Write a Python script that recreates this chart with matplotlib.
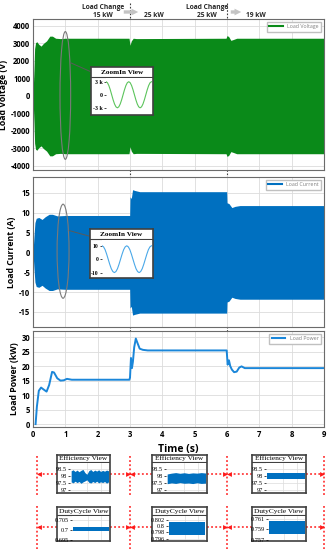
import numpy as np
import matplotlib
matplotlib.use("Agg")
import matplotlib.pyplot as plt
from matplotlib.patches import Ellipse, ConnectionPatch

plt.rcParams['font.family'] = ['Open Sans', 'Lato', 'DejaVu Sans']

## datos
volt_t = [0.0, 0.03, 0.05, 0.08, 0.12, 0.18, 0.25, 0.32, 0.42, 0.52, 0.6, 0.7, 0.85, 1.0,
          2.97, 3.0, 3.04, 3.1, 3.2, 5.97, 6.0, 6.05, 6.12, 6.2, 6.3, 9.0]
volt_amp = [0, 1500, 2700, 3050, 3100, 2950, 2850, 3000, 3150, 3420, 3420, 3300, 3280, 3300,
            3300, 2900, 3150, 3300, 3280, 3300, 3450, 3400, 3180, 3230, 3300, 3300]

curr_t = [0.0, 0.03, 0.06, 0.1, 0.18, 0.28, 0.38, 0.5, 0.6, 0.75, 1.0, 2.99, 3.0, 3.04, 3.08,
          3.15, 3.3, 5.99, 6.0, 6.06, 6.15, 6.25, 6.4, 9.0]
curr_amp = [0, 4, 7.5, 8.6, 8.8, 8.3, 9.0, 9.6, 9.6, 9.2, 9.3, 9.3, 14.0, 13.6, 15.8,
            15.6, 15.3, 15.3, 12.5, 12.3, 11.3, 11.6, 11.8, 11.8]

pow_t = [0.08, 0.12, 0.18, 0.25, 0.32, 0.42, 0.5, 0.59, 0.65, 0.75, 0.85, 0.95, 1.05, 1.2,
         2.98, 3.0, 3.03, 3.06, 3.09, 3.13, 3.18, 3.23, 3.3, 3.4, 3.55, 5.99, 6.02, 6.06,
         6.1, 6.15, 6.22, 6.3, 6.38, 6.45, 6.55, 9.0]
pow_kw = [0, 6, 11.5, 12.6, 12.0, 11.2, 13.5, 18.0, 17.8, 15.8, 15.0, 15.1, 15.6, 15.3,
          15.3, 16.0, 22.8, 19.3, 21.5, 26.5, 29.5, 28.0, 26.0, 25.6, 25.4, 25.4, 20.5, 22.0,
          20.0, 18.8, 17.9, 18.1, 19.5, 19.9, 19.3, 19.3]

## vistas ampliadas (una onda de 2 periodos)
zoom_v = [3000, 2770, 2120, 1150, 0, -1150, -2120, -2770, -3000, -2770, -2120, -1150, 0,
          1150, 2120, 2770, 3000, 2770, 2120, 1150, 0, -1150, -2120, -2770, -3000, -2770,
          -2120, -1150, 0, 1150, 2120, 2770, 3000]
zoom_i = [10, 9.2, 7.1, 3.8, 0, -3.8, -7.1, -9.2, -10, -9.2, -7.1, -3.8, 0, 3.8, 7.1, 9.2,
          10, 9.2, 7.1, 3.8, 0, -3.8, -7.1, -9.2, -10, -9.2, -7.1, -3.8, 0, 3.8, 7.1, 9.2, 10]

## eficiencia y ciclo de trabajo en cada tramo
eff1_hi = [98.35, 98.42, 98.30, 98.40, 98.28, 98.38, 98.45, 98.22, 98.10, 98.36, 98.44,
           98.30, 98.40, 98.33, 98.42, 98.30, 98.38, 98.32, 98.40, 98.35]
eff1_lo = [97.55, 97.48, 97.60, 97.50, 97.58, 97.45, 97.55, 97.62, 97.70, 97.52, 97.47,
           97.58, 97.50, 97.60, 97.48, 97.56, 97.50, 97.58, 97.46, 97.55]
eff2_hi = [98.12, 98.18, 98.22, 98.17, 98.21, 98.16, 98.20, 98.18, 98.22, 98.19]
eff2_lo = [97.42, 97.48, 97.44, 97.50, 97.45, 97.47, 97.43, 97.49, 97.44, 97.46]
eff3_hi = [98.18, 98.18]
eff3_lo = [97.78, 97.78]
duty_lo = [0.6991, 0.7972, 0.7580]
duty_hi = [0.7013, 0.8013, 0.7605]
duty_ticks = [[0.695, 0.7, 0.705], [0.796, 0.798, 0.8, 0.802], [0.757, 0.759, 0.761]]
duty_lim = [(0.6959, 0.7068), (0.79568, 0.80326), (0.75718, 0.76155)]

W, H = 333, 550
fig = plt.figure(figsize=(3.33, 5.5), dpi=100)


def px(x0, y0, x1, y1):
    return [x0 / W, 1 - y1 / H, (x1 - x0) / W, (y1 - y0) / H]


tick_font = dict(fontweight='bold', fontsize=5.5)
grid_c = '#dcdcdc'


def style(ax, yticks, ylabel):
    ax.set_xlim(0, 9)
    ax.set_xticks(range(10))
    ax.set_yticks(yticks, [str(v) for v in yticks], **tick_font)
    ax.grid(True, color=grid_c, lw=0.6)
    ax.set_axisbelow(True)
    ax.tick_params(length=0, pad=2)
    for s in ax.spines.values():
        s.set_color('#6b6b6b')
        s.set_linewidth(0.8)
    ax.set_ylabel(ylabel, fontsize=6.3, fontweight='bold', labelpad=2)


ax1 = fig.add_axes(px(33, 19, 324, 170))
ax2 = fig.add_axes(px(33, 177, 324, 327))
ax3 = fig.add_axes(px(33, 331, 324, 427))

ax1.fill_between(volt_t, [-a for a in volt_amp], volt_amp, color='#0a8a19', lw=0,
                 label='Load Voltage')
ax1.set_ylim(-4230, 4400)
style(ax1, list(range(-4000, 4001, 1000)), 'Load Voltage (V)')
ax1.set_xticklabels([])

ax2.fill_between(curr_t, [-a for a in curr_amp], curr_amp, color='#0070c0', lw=0,
                 label='Load Current')
ax2.set_ylim(-18.8, 19)
style(ax2, list(range(-15, 16, 5)), 'Load Current (A)')
ax2.set_xticklabels([])

ax3.plot(pow_t, pow_kw, color='#1a86d9', lw=1.4, label='Load Power')
ax3.set_ylim(-1, 32.1)
style(ax3, list(range(0, 31, 5)), 'Load Power (kW)')
ax3.set_xticks(range(10), [str(v) for v in range(10)], **tick_font)
ax3.set_xlabel('Time (s)', fontsize=7.5, fontweight='bold', labelpad=4)

for ax, c in [(ax1, '#0a8a19'), (ax2, '#0070c0'), (ax3, '#1a86d9')]:
    h = [plt.Line2D([], [], color=c, lw=1.5)]
    lab = ax.get_legend_handles_labels()[1]
    ax.legend(h, lab, loc='upper right', fontsize=3.8, handlelength=2.6, fancybox=False,
              edgecolor='#c0c0c0', labelcolor='#808080', borderaxespad=0.5,
              borderpad=0.5, framealpha=1)

# elipses de la vista ampliada
ax1.add_patch(Ellipse((1.0, 30), 0.33, 7300, fill=False, ec='#7a7a7a', lw=0.8, zorder=5))
ax2.add_patch(Ellipse((0.93, 0.3), 0.37, 23.7, fill=False, ec='#7a7a7a', lw=0.8, zorder=5))


def make_box(x0, y0, x1, y1, head_y, plot_x0, title, bold, tsize, lsize=4.5):
    box = fig.add_axes(px(x0, y0, x1, y1), zorder=3)
    box.set_xticks([])
    box.set_yticks([])
    for s in box.spines.values():
        s.set_edgecolor('#404040')
        s.set_linewidth(1.2)
    frac = 1 - (head_y - y0) / (y1 - y0)
    box.axhline(frac, color='#404040', lw=0.8)
    box.text(0.5, (1 + frac) / 2, title, transform=box.transAxes, ha='center',
             va='center', fontsize=tsize, family='Liberation Serif',
             fontweight='bold' if bold else 'normal')
    ax = fig.add_axes(px(plot_x0, head_y + 1, x1 - 1.5, y1 - 1.5), zorder=4)
    ax.set_xticks([])
    for s in ax.spines.values():
        s.set_visible(False)
    ax.tick_params(axis='y', length=1.5, width=0.5, pad=1, labelsize=lsize)
    return box, ax


sfont = dict(family='Liberation Serif', fontweight='bold')
b1, z1 = make_box(91, 67, 153, 115, 77, 106, 'ZoomIn View', True, 5.2, 4.3)
z1.plot(range(len(zoom_v)), zoom_v, color='#5cc45c', lw=0.8)
z1.set_xlim(0, len(zoom_v) - 1)
z1.set_ylim(-4300, 3850)
z1.set_yticks([-3000, 0, 3000], ['-3 k', '0', '3 k'], **sfont)
fig.add_artist(ConnectionPatch((1.16, 1900), (0, 0.9), coordsA=ax1.transData,
                               coordsB=b1.transAxes, color='#5a5a5a', lw=0.7, zorder=2.5))

b2, z2 = make_box(90, 229, 153, 278, 239, 102, 'ZoomIn View', True, 5.2, 4.1)
z2.plot(range(len(zoom_i)), zoom_i, color='#4aa8e8', lw=0.8)
z2.set_xlim(0, len(zoom_i) - 1)
z2.set_ylim(-12.9, 14.3)
z2.set_yticks([-10, 0, 10], ['-10', '0', '10'], **sfont)
fig.add_artist(ConnectionPatch((1.12, 5.5), (0, 0.85), coordsA=ax2.transData,
                               coordsB=b2.transAxes, color='#5a5a5a', lw=0.7, zorder=2.5))

# vistas de eficiencia y ciclo de trabajo
eff_boxes = [(57, 110, 70), (152, 207, 166), (252, 306, 266)]
duty_boxes = [(57, 110, 72), (152, 207, 168), (252, 306, 268)]
effs = [(eff1_lo, eff1_hi), (eff2_lo, eff2_hi), (eff3_lo, eff3_hi)]
serif = dict(family='Liberation Serif')
for i, (x0, x1, xp) in enumerate(eff_boxes):
    b, a = make_box(x0, 455, x1, 493, 462, xp, 'Efficiency View', False, 5.3)
    lo, hi = effs[i]
    a.fill_between(np.linspace(0.03, 1, len(lo)), lo, hi, color='#0070c0', lw=0)
    a.set_xlim(0, 1)
    a.set_ylim(96.86, 98.91)
    a.set_yticks([97, 97.5, 98, 98.5], ['97', '97.5', '98', '98.5'], **serif)
    a.set_xticks([0.45, 0.8], [])
    a.tick_params(axis='x', length=0)
    a.grid(True, color=grid_c, lw=0.5)
    a.set_axisbelow(True)
for i, (x0, x1, xp) in enumerate(duty_boxes):
    b, a = make_box(x0, 507, x1, 541, 515, xp, 'DutyCycle View', False, 5.3)
    a.fill_between([0.02, 1], duty_lo[i], duty_hi[i], color='#0070c0', lw=0)
    a.set_xlim(0, 1)
    a.set_ylim(*duty_lim[i])
    a.set_yticks(duty_ticks[i], [f'{v:g}' for v in duty_ticks[i]], **serif)
    a.set_xticks([0.45, 0.8], [])
    a.tick_params(axis='x', length=0)
    a.grid(True, color=grid_c, lw=0.5)
    a.set_axisbelow(True)

# capa de anotaciones en pixeles
ov = fig.add_axes([0, 0, 1, 1], zorder=-1)
ov.set_xlim(0, W)
ov.set_ylim(H, 0)
ov.axis('off')
ov.patch.set_alpha(0)

fig.canvas.draw()


def tx(t):
    return ax3.transData.transform((t, 0))[0]


for t in [3, 6]:
    ov.plot([tx(t), tx(t)], [3, 331], color='#404040', ls=(0, (1.5, 1.5)), lw=0.8)

bold6 = dict(fontsize=4.8, fontweight='bold', ha='center', va='center', color='#262626')
ov.text(103, 7.5, 'Load Change', **bold6)
ov.text(103, 15.5, '15 kW', **bold6)
ov.text(154, 15.5, '25 kW', **bold6)
ov.text(207, 7.5, 'Load Change', **bold6)
ov.text(207, 15.5, '25 kW', **bold6)
ov.text(256, 15.5, '19 kW', **bold6)
for xa, xb in [(121, 141), (228, 244)]:
    ov.annotate('', xy=(xb, 12), xytext=(xa, 12),
                arrowprops=dict(arrowstyle='simple,head_width=0.6,head_length=0.6,tail_width=0.3',
                                mutation_scale=8, color='#c4c4c4', lw=0))

marks = [tx(0.12), tx(3), tx(6), tx(9)]
red = '#ff1a1a'
for m in marks:
    ov.plot([m, m], [456, 495], color=red, ls=(0, (1.2, 1.5)), lw=1.1)
    ov.plot([m, m], [506, 549], color=red, ls=(0, (1.2, 1.5)), lw=1.1)
for yrow, boxes in [(474, eff_boxes), (527, duty_boxes)]:
    for i, (x0, x1, _) in enumerate(boxes):
        for xs, xe, mk, off in [(x0, marks[i], '<', 2), (x1, marks[i + 1], '>', -2)]:
            ov.plot([xs, xe], [yrow, yrow], color=red, ls=(0, (1.2, 1.5)), lw=1.1)
            ov.plot(xe + off, yrow, marker=mk, color=red, ms=3.5, mew=0)

fig.savefig('out.png', dpi=100)
